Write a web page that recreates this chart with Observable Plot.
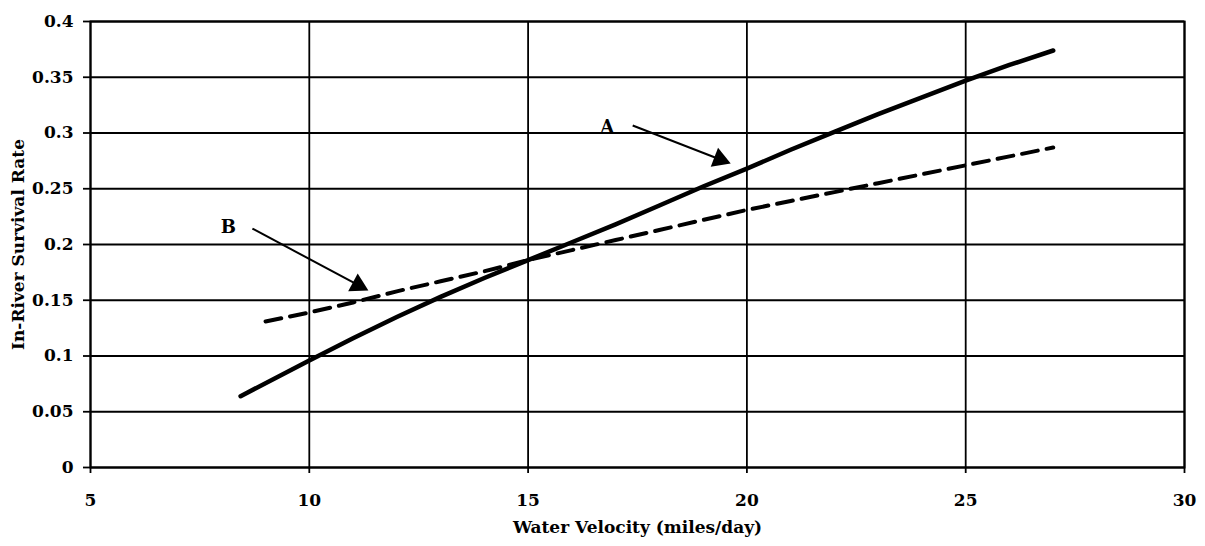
<!DOCTYPE html>
<html>
<head>
<meta charset="utf-8">
<script src="https://cdn.jsdelivr.net/npm/d3@7"></script>
<script src="https://cdn.jsdelivr.net/npm/@observablehq/plot@0.6"></script>
<style>
  html, body { margin: 0; padding: 0; background: #fff; }
</style>
</head>
<body>
<div id="chart"></div>
<script>
// ---- data ----
const velocityA = [8.43, 10, 11, 12, 13, 14, 15, 16, 17, 18, 19, 20, 21, 22, 23, 24, 25, 26, 27];
const survivalA = [0.064, 0.096, 0.116, 0.135, 0.153, 0.170, 0.186, 0.202, 0.218, 0.235, 0.252, 0.268, 0.285, 0.301, 0.317, 0.332, 0.347, 0.361, 0.374];
const velocityB = [9, 10, 11, 12, 13, 14, 15, 16, 17, 18, 19, 20, 21, 22, 23, 24, 25, 26, 27];
const survivalB = [0.131, 0.139, 0.148, 0.158, 0.167, 0.176, 0.186, 0.195, 0.204, 0.213, 0.222, 0.231, 0.239, 0.247, 0.255, 0.263, 0.271, 0.279, 0.287];

const xTicks = [5, 10, 15, 20, 25, 30];
const yTicks = [0, 0.05, 0.1, 0.15, 0.2, 0.25, 0.3, 0.35, 0.4];
const yTickLabels = ["0", "0.05", "0.1", "0.15", "0.2", "0.25", "0.3", "0.35", "0.4"];

// annotations: label, label position, arrow start, arrow tip (data units)
const annLabels = ["A", "B"];
const annLabelX = [16.81, 8.15];
const annLabelY = [0.305, 0.2155];
const annStartX = [17.39, 8.70];
const annStartY = [0.3067, 0.2143];
const annTipX = [19.63, 11.35];
const annTipY = [0.2726, 0.1587];

const xTitle = "Water Velocity (miles/day)";
const yTitle = "In-River Survival Rate";

// ---- layout ----
const W = 1205, H = 546;
const mL = 90, mR = 21, mT = 21, mB = 79;
const xDom = [5, 30], yDom = [0, 0.4];
const pxX = (W - mL - mR) / (xDom[1] - xDom[0]);
const pxY = (H - mT - mB) / (yDom[1] - yDom[0]);

const lineA = velocityA.map((v, i) => ({x: v, y: survivalA[i]}));
const lineB = velocityB.map((v, i) => ({x: v, y: survivalB[i]}));

const triR = 7.5;
const triBack = 2 * Math.sqrt(Math.PI * triR * triR / (3 * Math.sqrt(3)));
const ann = annLabels.map((t, i) => {
  const dxp = (annTipX[i] - annStartX[i]) * pxX;
  const dyp = -(annTipY[i] - annStartY[i]) * pxY;
  const len = Math.hypot(dxp, dyp);
  const ux = dxp / len, uy = dyp / len;
  return {
    label: t, lx: annLabelX[i], ly: annLabelY[i],
    x1: annStartX[i], y1: annStartY[i],
    x2: annTipX[i] - ux * triBack * 1.2 / pxX, y2: annTipY[i] + uy * triBack * 1.2 / pxY,
    cx: annTipX[i] - ux * triBack / pxX, cy: annTipY[i] + uy * triBack / pxY,
    angle: Math.atan2(dxp, -dyp) * 180 / Math.PI
  };
});

const font = "'DejaVu Serif', 'Liberation Serif', serif";
const fsTick = 17;
const fsTitle = 17;

const chart = Plot.plot({
  width: W, height: H,
  marginLeft: mL, marginRight: mR, marginTop: mT, marginBottom: mB,
  style: {fontFamily: font, fontWeight: "bold", fontSize: fsTick + "px", color: "#000", background: "#fff"},
  x: {domain: xDom},
  y: {domain: yDom},
  marks: [
    Plot.gridX(xTicks, {stroke: "#000", strokeOpacity: 1, strokeWidth: 1.8}),
    Plot.gridY(yTicks, {stroke: "#000", strokeOpacity: 1, strokeWidth: 1.8}),
    Plot.frame({stroke: "#000", strokeWidth: 2}),
    Plot.axisX({ticks: xTicks, tickSize: 6, tickFormat: () => "", label: null, strokeWidth: 1.8}),
    Plot.text(xTicks, {x: d => d, frameAnchor: "bottom", lineAnchor: "middle", dy: 33, text: d => String(d), fontSize: fsTick, fontWeight: "bold"}),
    Plot.axisY({ticks: yTicks, tickSize: 7, tickPadding: 10, tickFormat: (d, i) => yTickLabels[i], label: null, strokeWidth: 1.8, fontSize: fsTick, fontWeight: "bold"}),
    Plot.line(lineB, {x: "x", y: "y", stroke: "#000", strokeWidth: 4, strokeDasharray: "16,9"}),
    Plot.line(lineA, {x: "x", y: "y", stroke: "#000", strokeWidth: 4.5, strokeLinecap: "round"}),
    Plot.link(ann, {x1: "x1", y1: "y1", x2: "x2", y2: "y2", stroke: "#000", strokeWidth: 2}),
    Plot.dot(ann, {x: "cx", y: "cy", symbol: "triangle", r: triR, fill: "#000", stroke: "none", rotate: "angle"}),
    Plot.text(ann, {x: "lx", y: "ly", text: "label", fontSize: 18, fontWeight: "bold"}),
    Plot.text([xTitle], {frameAnchor: "bottom", dy: 65, fontSize: fsTitle, fontWeight: "bold"}),
    Plot.text([yTitle], {frameAnchor: "left", textAnchor: "middle", dx: -72, rotate: -90, fontSize: fsTitle, fontWeight: "bold"})
  ]
});
document.getElementById("chart").appendChild(chart);
</script>
</body>
</html>
